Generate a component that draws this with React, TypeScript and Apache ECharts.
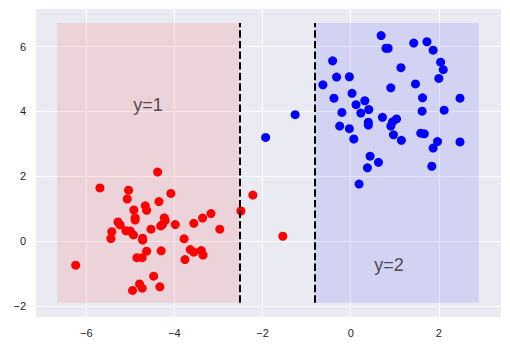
import React, { useEffect, useRef } from "react";
import * as echarts from "echarts";

const redX = [-4.38, -5.69, -5.04, -5.07, -4.08, -4.35, -4.66, -4.63, -4.92, -4.89, -4.89, -4.23, -4.21, -4.31, -4.27, -3.98, -4.53, -5.28, -5.23, -5.42, -5.44, -5.10, -5.00, -4.93, -4.72, -4.72, -3.56, -3.36, -3.17, -2.97, -3.78, -4.63, -4.30, -3.64, -3.56, -3.39, -3.35, -4.85, -4.73, -3.76, -6.24, -4.47, -4.79, -4.73, -4.95, -4.33, -2.49, -2.22, -1.54];
const redY = [2.13, 1.64, 1.57, 1.30, 1.47, 1.22, 1.09, 0.95, 0.96, 0.72, 0.65, 0.72, 0.64, 0.47, 0.51, 0.51, 0.37, 0.59, 0.50, 0.29, 0.08, 0.32, 0.31, 0.19, 0.09, 0.03, 0.55, 0.71, 0.85, 0.37, 0.07, -0.31, -0.30, -0.26, -0.34, -0.29, -0.43, -0.51, -0.51, -0.57, -0.74, -1.08, -1.32, -1.45, -1.52, -1.41, 0.93, 1.42, 0.15];

const blueX = [0.69, 0.80, 0.85, 1.43, 1.73, 1.87, 2.04, 2.10, 2.00, -0.41, -0.32, -0.03, -0.63, 1.14, 1.47, 0.91, 0.03, -0.38, 0.32, 0.12, 0.41, 0.23, -0.20, 1.63, 2.48, 1.62, 2.12, -0.25, -0.03, 0.40, 0.40, 0.72, 1.04, 0.95, 0.91, 0.07, 0.97, 1.15, 1.59, 1.67, 1.97, 1.87, 2.48, 0.44, 0.63, 0.38, 1.84, 0.19, -1.26, -1.93];
const blueY = [6.34, 5.95, 5.95, 6.11, 6.15, 5.89, 5.52, 5.29, 5.02, 5.56, 5.06, 5.07, 4.82, 5.35, 4.85, 4.73, 4.56, 4.41, 4.33, 4.21, 4.06, 3.95, 3.97, 4.42, 4.41, 4.01, 4.04, 3.55, 3.47, 3.67, 3.58, 3.82, 3.77, 3.68, 3.55, 3.15, 3.28, 3.11, 3.33, 3.31, 3.07, 2.87, 3.06, 2.62, 2.43, 2.26, 2.31, 1.76, 3.90, 3.20];

const xLimits = [-7.14, 3.41];
const yLimits = [-2.34, 7.16];
const regionBottom = -1.9;
const regionTop = 6.73;
const redRegion = [-6.66, -2.52];
const blueRegion = [-0.82, 2.91];
const labels = [
  { text: "y=1", x: -4.6, y: 4.2 },
  { text: "y=2", x: 0.87, y: -0.75 },
];

export default function App() {
  const ref = useRef<HTMLDivElement>(null);
  useEffect(() => {
    if (!ref.current) return;
    const chart = echarts.init(ref.current, undefined, { renderer: "svg" });
    const font = "Liberation Sans, Arial, sans-serif";
    const axisCommon = {
      type: "value" as const,
      axisLine: { show: false },
      axisTick: { show: false },
      splitLine: { show: true, showMinLine: false, showMaxLine: false, lineStyle: { color: "#ffffff", width: 1 } },
      axisLabel: {
        color: "#262626",
        fontSize: 11,
        fontFamily: font,
        margin: 10,
        formatter: (v: number) => (Math.abs(v - Math.round(v)) < 1e-6 ? String(Math.round(v)).replace("-", "\u2212") : ""),
        showMinLabel: false,
        showMaxLabel: false,
      },
    };
    chart.setOption({
      animation: false,
      backgroundColor: "#ffffff",
      grid: { left: 36, top: 9, right: 9, bottom: 32, backgroundColor: "#EAEAF2", show: true, borderWidth: 0 },
      xAxis: { ...axisCommon, min: xLimits[0], max: xLimits[1] },
      yAxis: { ...axisCommon, min: yLimits[0], max: yLimits[1] },
      series: [
        {
          type: "scatter",
          data: redX.map((x, i) => [x, redY[i]]),
          symbolSize: 9,
          itemStyle: { color: "#ff0000", opacity: 1 },
          z: 3,
          markArea: {
            silent: true,
            itemStyle: { color: "rgba(255,0,0,0.1)" },
            data: [
              [{ coord: [redRegion[0], regionBottom] }, { coord: [redRegion[1], regionTop] }],
            ],
          },
        },
        {
          type: "scatter",
          data: blueX.map((x, i) => [x, blueY[i]]),
          symbolSize: 9,
          itemStyle: { color: "#0000ff", opacity: 1 },
          z: 3,
          markArea: {
            silent: true,
            itemStyle: { color: "rgba(0,0,255,0.1)" },
            data: [
              [{ coord: [blueRegion[0], regionBottom] }, { coord: [blueRegion[1], regionTop] }],
            ],
          },
        },
        {
          type: "scatter",
          data: labels.map((l) => ({ value: [l.x, l.y], name: l.text })),
          symbolSize: 0,
          silent: true,
          z: 4,
          label: {
            show: true,
            position: "inside",
            formatter: (p: any) => p.name,
            fontSize: 18,
            fontFamily: font,
            color: "#262626",
          },
          markLine: {
            silent: true,
            symbol: "none",
            label: { show: false },
            lineStyle: { color: "#000000", width: 2, type: [7.4, 3.2] },
            data: [
              [{ coord: [redRegion[1], regionBottom] }, { coord: [redRegion[1], regionTop] }],
              [{ coord: [blueRegion[0], regionBottom] }, { coord: [blueRegion[0], regionTop] }],
            ],
          },
        },
      ],
    });
    return () => chart.dispose();
  }, []);
  return <div ref={ref} style={{ position: "fixed", left: 0, top: 0, width: 510, height: 349 }} />;
}
